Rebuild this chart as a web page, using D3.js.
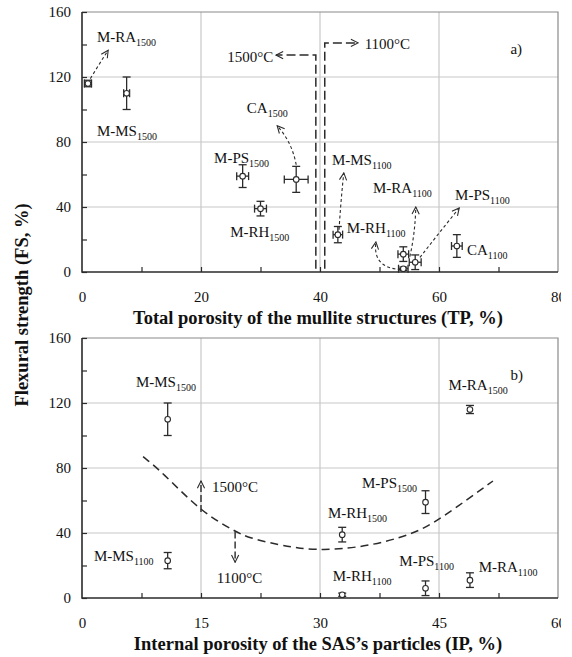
<!DOCTYPE html>
<html>
<head>
<meta charset="utf-8">
<script src="https://cdn.jsdelivr.net/npm/d3@7/dist/d3.min.js"></script>
<style>
  html, body { margin: 0; padding: 0; background: #fff; }
  svg { display: block; }
</style>
</head>
<body>
<div id="chart"></div>
<script>
/* ── DATA: panel a) total porosity vs flexural strength ── */
const SAMPLES_A = ['M-RA1500', 'M-MS1500', 'M-PS1500', 'M-RH1500', 'CA1500',
                   'M-MS1100', 'M-RA1100', 'M-RH1100', 'M-PS1100', 'CA1100'];
const TP        = [1, 7.5, 27, 30, 36, 43, 54, 54, 56, 63];
const TP_ERR    = [0.6, 0.5, 1, 1, 2, 0.8, 0.9, 0.8, 1, 0.9];
const FS_A      = [116, 110, 59, 39, 57, 23, 11, 2, 6, 16];
const FS_ERR_A  = [2, 10, 7, 4.5, 8, 5, 4.5, 1, 4.5, 7];

/* ── DATA: panel b) internal porosity vs flexural strength ── */
const SAMPLES_B = ['M-MS1500', 'M-MS1100', 'M-RH1500', 'M-RH1100',
                   'M-PS1500', 'M-PS1100', 'M-RA1500', 'M-RA1100'];
const IP        = [10.8, 10.8, 32.8, 32.8, 43.3, 43.3, 48.9, 48.9];
const FS_B      = [110, 23, 39, 2, 59, 6, 116, 11];
const FS_ERR_B  = [10, 5, 4.5, 1, 7, 4.5, 2.5, 4.5];

/* dashed trend separating 1500 °C from 1100 °C samples */
const TREND_IP = [7.7, 10, 15, 19.3, 21, 25, 27.5, 30, 35.4, 41.7, 45, 51.8];
const TREND_FS = [87, 78, 53, 41, 37, 32.5, 30.5, 29.5, 31, 39, 48, 72];

/* tick values */
const Y_TICKS   = [0, 40, 80, 120, 160];
const TP_TICKS  = [0, 20, 40, 60, 80];
const IP_TICKS  = [0, 15, 30, 45, 60];

/* ── ANNOTATIONS (anchored in data units) ── */
// label text start + baseline
const LABELS_A = [
  ['M-RA1500', 2.5, 141.5], ['M-MS1500', 2.5, 83.7], ['CA1500', 27.7, 97.8],
  ['M-PS1500', 22.2, 67], ['M-RH1500', 24.9, 21.5], ['M-MS1100', 42, 66],
  ['M-RA1100', 48.9, 48.6], ['M-PS1100', 62.7, 44.3], ['M-RH1100', 44.5, 24],
  ['CA1100', 64.7, 10.5], ['1500°C', 24.4, 129.5], ['1100°C', 47.5, 137.5], ['a)', 72, 134],
];
const LABELS_B = [
  ['M-MS1500', 6.8, 130], ['M-MS1100', 1.5, 22.8], ['M-RH1500', 31, 49],
  ['M-RH1100', 31.6, 10.5], ['M-PS1500', 35.3, 68], ['M-PS1100', 40, 19.7],
  ['M-RA1500', 46.2, 128], ['M-RA1100', 50, 16], ['1500°C', 16.4, 65],
  ['1100°C', 17, 9.5], ['b)', 54, 134],
];
// small dashed arrows: start, control, end
const ARROWS_A = [
  [[1.4, 119], [2.9, 128], [4.4, 136.5]],
  [[36, 66], [35.3, 80], [32.8, 90]],
  [[43.2, 26], [43.5, 44], [44, 61]],
  [[55.1, 9.5], [56, 24], [56.1, 40]],
  [[56.8, 9], [60, 24], [63.4, 39.4]],
  [[53.6, 1.5], [48.8, 2.5], [49.4, 18.5]],
];
// 1500/1100 °C dividers: [x, yTop, yBottom, arrowTipX]
const DIVIDERS_A = [[39.3, 133.5, 2, 32.6], [40.8, 141, 2, 46.4]];
// panel b vertical arrows: [x, yFrom, yTo]
const ARROWS_B = [[15, 53, 72], [19.3, 41, 22]];

/* ── LAYOUT ── */
const W = 561, H = 657;
const LEFT = 82, PW = 476, PH = 260;
const TOP_A = 12, TOP_B = 338;
const SERIF = "'Liberation Serif', 'Times New Roman', serif";
const INK = '#2b2b2b';
const GRID = '#c8c8c8';

const svg = d3.select('#chart').append('svg').attr('width', W).attr('height', H);

const defs = svg.append('defs');
defs.append('marker')
  .attr('id', 'vhead').attr('viewBox', '0 0 10 10')
  .attr('refX', 9).attr('refY', 5)
  .attr('markerWidth', 9).attr('markerHeight', 9)
  .attr('markerUnits', 'userSpaceOnUse').attr('orient', 'auto')
  .append('path').attr('d', 'M1,1 L9,5 L1,9')
  .attr('fill', 'none').attr('stroke', INK).attr('stroke-width', 1.2);

function addLabel(g, text, x, y) {
  const m = text.match(/^(.*?)(\d{4})$/);
  const t = g.append('text').attr('x', x).attr('y', y)
    .style('font-family', SERIF).style('font-size', '15px').attr('fill', '#111');
  if (m) {
    t.append('tspan').text(m[1]);
    t.append('tspan').attr('dy', 4).style('font-size', '10px').text(m[2]);
  } else {
    t.text(text);
  }
}

function drawFrame(g, xScale, yScale, xTicks, xMinor, xTitle) {
  // gridlines
  g.append('g').selectAll('line').data(xTicks.slice(1, -1)).join('line')
    .attr('x1', d => xScale(d)).attr('x2', d => xScale(d))
    .attr('y1', 0).attr('y2', PH).attr('stroke', GRID).attr('stroke-width', 1.2);
  g.append('g').selectAll('line').data(Y_TICKS.slice(1, -1)).join('line')
    .attr('x1', 0).attr('x2', PW)
    .attr('y1', d => yScale(d)).attr('y2', d => yScale(d)).attr('stroke', GRID).attr('stroke-width', 1.2);

  // top/right frame
  g.append('path').attr('d', `M0,0H${PW}V${PH}`).attr('fill', 'none')
    .attr('stroke', '#8a8a8a').attr('stroke-width', 1.2);

  // inward minor ticks
  g.append('g').attr('transform', `translate(0,${PH})`)
    .call(d3.axisBottom(xScale).tickValues(xMinor).tickSize(-5).tickFormat(''))
    .call(ax => ax.select('.domain').remove())
    .call(ax => ax.selectAll('line').attr('stroke', INK).attr('stroke-width', 1.2));
  g.append('g')
    .call(d3.axisLeft(yScale).tickValues(d3.range(0, 161, 20)).tickSize(-5).tickFormat(''))
    .call(ax => ax.select('.domain').remove())
    .call(ax => ax.selectAll('line').attr('stroke', INK).attr('stroke-width', 1.2));

  // left/bottom axis lines
  g.append('path').attr('d', `M0,0V${PH}H${PW}`).attr('fill', 'none')
    .attr('stroke', INK).attr('stroke-width', 1.6);

  // tick labels
  g.append('g').attr('transform', `translate(0,${PH})`)
    .call(d3.axisBottom(xScale).tickValues(xTicks).tickSize(0).tickPadding(19))
    .call(ax => ax.select('.domain').remove())
    .call(ax => ax.selectAll('text').style('font-family', SERIF)
                                      .style('font-size', '15px').attr('fill', '#111'));
  g.append('g')
    .call(d3.axisLeft(yScale).tickValues(Y_TICKS).tickSize(0).tickPadding(11))
    .call(ax => ax.select('.domain').remove())
    .call(ax => ax.selectAll('text').style('font-family', SERIF)
                                      .style('font-size', '15px').attr('fill', '#111'));

  // axis title
  g.append('text').attr('x', PW / 2 - 2).attr('y', PH + 52).attr('text-anchor', 'middle')
    .style('font-family', SERIF).style('font-size', '18.5px').style('font-weight', 'bold')
    .attr('fill', '#111').text(xTitle);
}

function drawPoints(g, xs, ys, yErr, xErr, xScale, yScale) {
  const pts = g.append('g').attr('stroke', INK).attr('stroke-width', 1.3);
  xs.forEach((xv, i) => {
    const cx = xScale(xv), cy = yScale(ys[i]);
    const y1 = yScale(ys[i] + yErr[i]), y2 = yScale(ys[i] - yErr[i]);
    pts.append('line').attr('x1', cx).attr('x2', cx).attr('y1', y1).attr('y2', y2);
    pts.append('line').attr('x1', cx - 4).attr('x2', cx + 4).attr('y1', y1).attr('y2', y1);
    pts.append('line').attr('x1', cx - 4).attr('x2', cx + 4).attr('y1', y2).attr('y2', y2);
    if (xErr) {
      const x1 = xScale(xv - xErr[i]), x2 = xScale(xv + xErr[i]);
      pts.append('line').attr('x1', x1).attr('x2', x2).attr('y1', cy).attr('y2', cy);
      pts.append('line').attr('x1', x1).attr('x2', x1).attr('y1', cy - 4).attr('y2', cy + 4);
      pts.append('line').attr('x1', x2).attr('x2', x2).attr('y1', cy - 4).attr('y2', cy + 4);
    }
    pts.append('circle').attr('cx', cx).attr('cy', cy).attr('r', 2.8)
      .attr('fill', '#fff').attr('stroke-width', 1.1);
  });
}

/* ── PANEL a) ── */
const gA = svg.append('g').attr('transform', `translate(${LEFT},${TOP_A})`);
const xA = d3.scaleLinear().domain([0, 80]).range([0, PW]);
const yA = d3.scaleLinear().domain([0, 160]).range([PH, 0]);
drawFrame(gA, xA, yA, TP_TICKS, d3.range(10, 80, 10), 'Total porosity of the mullite structures (TP, %)');

DIVIDERS_A.forEach(([x, yTop, yBot, tipX]) => {
  gA.append('path')
    .attr('d', `M${xA(x)},${yA(yBot)}V${yA(yTop)}H${xA(tipX)}`)
    .attr('fill', 'none').attr('stroke', INK).attr('stroke-width', 1.5)
    .attr('stroke-dasharray', '9 4').attr('marker-end', 'url(#vhead)');
});

ARROWS_A.forEach(([s, c, e]) => {
  gA.append('path')
    .attr('d', `M${xA(s[0])},${yA(s[1])}Q${xA(c[0])},${yA(c[1])} ${xA(e[0])},${yA(e[1])}`)
    .attr('fill', 'none').attr('stroke', INK).attr('stroke-width', 1.1)
    .attr('stroke-dasharray', '3 2.5').attr('marker-end', 'url(#vhead)');
});

drawPoints(gA, TP, FS_A, FS_ERR_A, TP_ERR, xA, yA);
LABELS_A.forEach(([t, x, y]) => addLabel(gA, t, xA(x), yA(y)));

/* ── PANEL b) ── */
const gB = svg.append('g').attr('transform', `translate(${LEFT},${TOP_B})`);
const xB = d3.scaleLinear().domain([0, 60]).range([0, PW]);
const yB = d3.scaleLinear().domain([0, 160]).range([PH, 0]);
drawFrame(gB, xB, yB, IP_TICKS, d3.range(7.5, 60, 7.5), 'Internal porosity of the SAS\u2019s particles (IP, %)');

gB.append('path').datum(TREND_IP.map((v, i) => [v, TREND_FS[i]]))
  .attr('d', d3.line().x(d => xB(d[0])).y(d => yB(d[1])).curve(d3.curveBasis))
  .attr('fill', 'none').attr('stroke', INK).attr('stroke-width', 1.5)
  .attr('stroke-dasharray', '8 5');

ARROWS_B.forEach(([x, y0, y1]) => {
  gB.append('path').attr('d', `M${xB(x)},${yB(y0)}V${yB(y1)}`)
    .attr('fill', 'none').attr('stroke', INK).attr('stroke-width', 1.4)
    .attr('stroke-dasharray', '7 3').attr('marker-end', 'url(#vhead)');
});

drawPoints(gB, IP, FS_B, FS_ERR_B, null, xB, yB);
LABELS_B.forEach(([t, x, y]) => addLabel(gB, t, xB(x), yB(y)));

/* ── shared y title ── */
svg.append('text')
  .attr('transform', `translate(28,${(TOP_A + TOP_B + PH) / 2}) rotate(-90)`)
  .attr('text-anchor', 'middle')
  .style('font-family', SERIF).style('font-size', '18.5px').style('font-weight', 'bold')
  .attr('fill', '#111').text('Flexural strength (FS, %)');
</script>
</body>
</html>
